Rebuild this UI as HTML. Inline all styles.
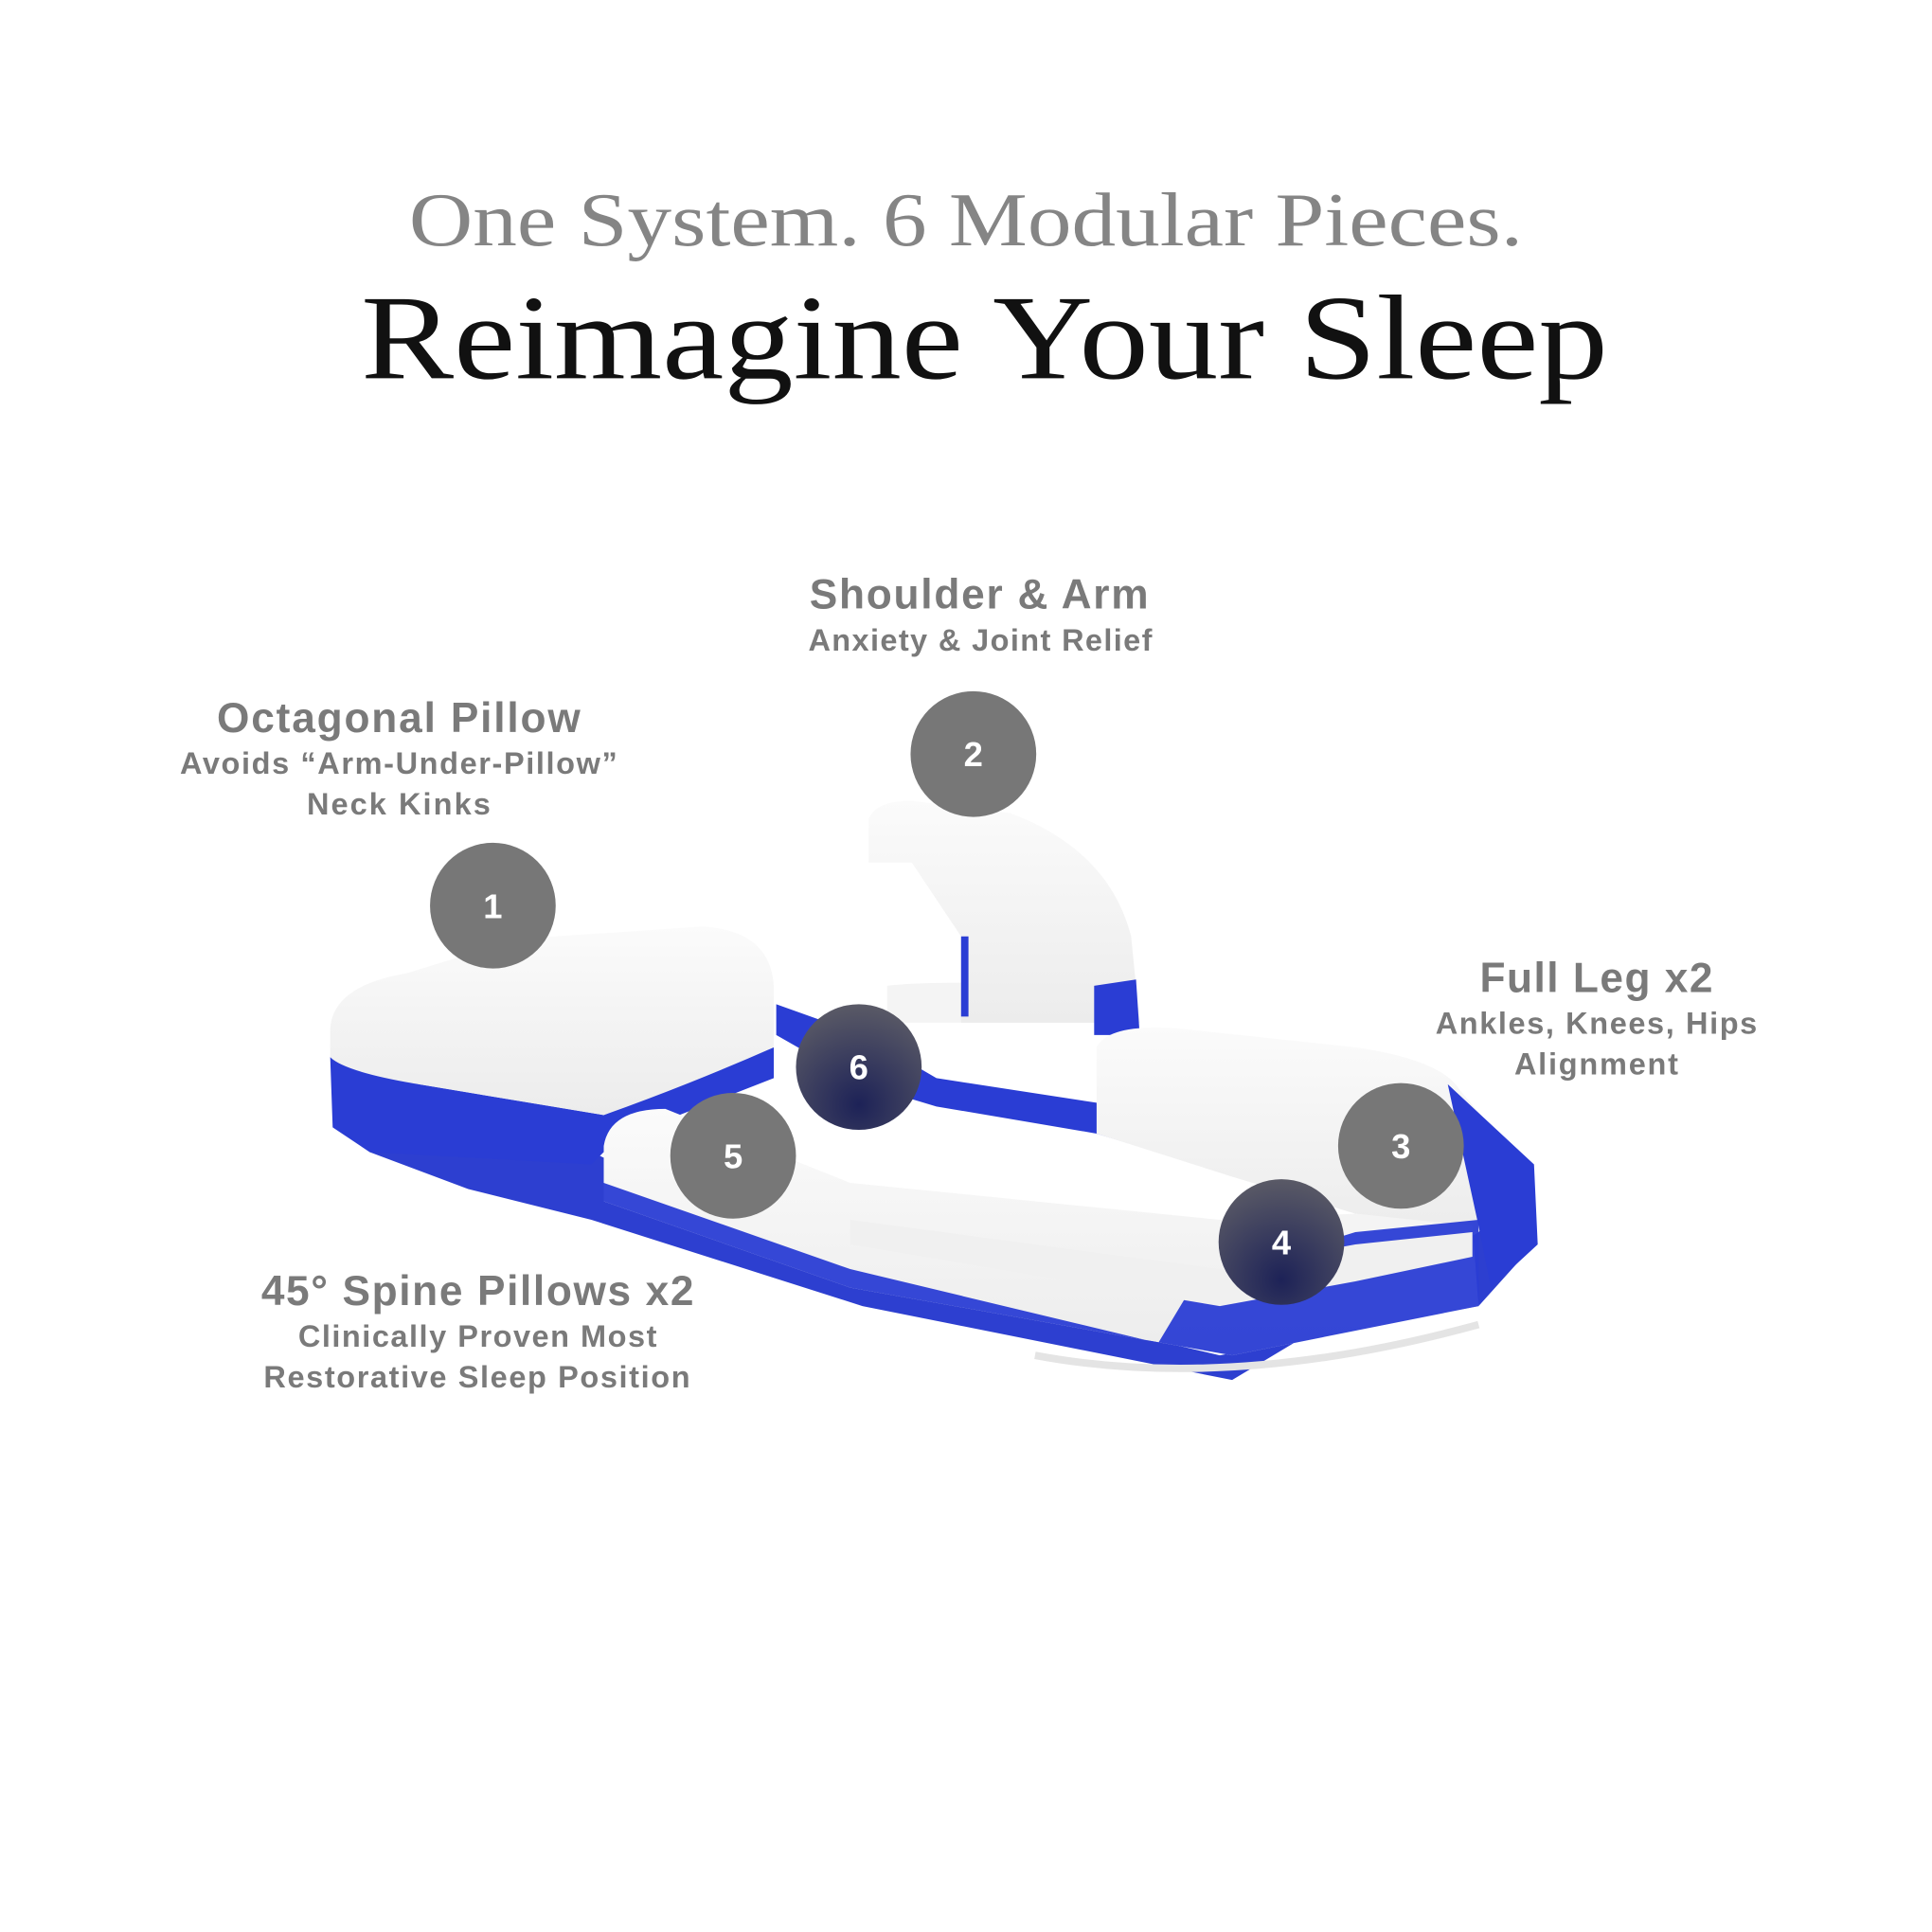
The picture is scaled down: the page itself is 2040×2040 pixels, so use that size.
<!DOCTYPE html>
<html><head><meta charset="utf-8"><style>
html,body{margin:0;padding:0;background:#fff}
svg{display:block}
</style></head><body>
<svg width="2040" height="2040" viewBox="0 0 1568 1568" xmlns="http://www.w3.org/2000/svg">
<defs>
<radialGradient id="dk" cx="0.5" cy="0.8" r="0.8">
<stop offset="0" stop-color="#1d2257"/><stop offset="1" stop-color="#5a5a66"/>
</radialGradient>
<linearGradient id="wt" x1="0" y1="0" x2="0" y2="1">
<stop offset="0" stop-color="#fbfbfb"/><stop offset="1" stop-color="#ececec"/>
</linearGradient>
</defs>
<rect width="1568" height="1568" fill="#fff"/>
<text x="332" y="199" textLength="904" lengthAdjust="spacingAndGlyphs" font-family="Liberation Serif, serif" font-size="62" fill="#858585">One System. 6 Modular Pieces.</text>
<text x="293" y="307" textLength="1012" lengthAdjust="spacingAndGlyphs" font-family="Liberation Serif, serif" font-size="98" fill="#111">Reimagine Your Sleep</text>

<g font-family="Liberation Sans, sans-serif" font-weight="bold" fill="#7a7a7a" lengthAdjust="spacingAndGlyphs">
<text x="657" y="494" font-size="34" textLength="275">Shoulder &amp; Arm</text>
<text x="656" y="528" font-size="25" textLength="279">Anxiety &amp; Joint Relief</text>
<text x="176" y="594" font-size="34" textLength="295">Octagonal Pillow</text>
<text x="146" y="628" font-size="25" textLength="355">Avoids “Arm-Under-Pillow”</text>
<text x="249" y="661" font-size="25" textLength="149">Neck Kinks</text>
<text x="1201" y="805" font-size="34" textLength="189">Full Leg x2</text>
<text x="1165" y="839" font-size="25" textLength="261">Ankles, Knees, Hips</text>
<text x="1229" y="872" font-size="25" textLength="133">Alignment</text>
<text x="212" y="1059" font-size="34" textLength="351">45° Spine Pillows x2</text>
<text x="242" y="1093" font-size="25" textLength="291">Clinically Proven Most</text>
<text x="214" y="1126" font-size="25" textLength="346">Restorative Sleep Position</text>
</g>

<g>
<path d="M300,920 L480,935 L690,1030 L990,1100 L1200,1060 L1245,1010 L1245,950 L1200,1000 L1000,1120 L700,1060 L480,990 L380,965 L300,935 Z" fill="#2d3fd0"/>
<path d="M268,858 L340,880 L490,905 L628,850 L628,875 L500,925 L480,945 L300,935 L270,915 Z" fill="#2a3dd4"/>
<path d="M268,835 Q270,800 330,790 L420,762 L570,752 Q625,755 628,800 L628,850 Q560,880 490,905 L340,880 Q280,870 268,858 Z" fill="url(#wt)"/>
<path d="M630,815 L700,840 L760,875 L890,895 L1000,930 L1005,955 L890,920 L760,898 L700,880 L630,840 Z" fill="#2a3dd4"/>
<path d="M720,800 Q760,795 890,800 L890,830 L720,830 Z" fill="#f4f4f4"/>
<path d="M705,665 Q710,650 740,650 L820,660 Q900,690 918,760 L925,830 L780,830 L780,760 L740,700 L705,700 Z" fill="url(#wt)"/>
<path d="M888,800 L922,795 L925,840 L888,840 Z" fill="#2a3dd4"/>
<path d="M780,760 L786,760 L786,825 L780,825 Z" fill="#2a3dd4"/>
<path d="M890,850 Q900,830 960,835 L1100,850 Q1170,860 1185,885 L1240,950 L1200,1000 L1100,985 L1000,955 L890,920 Z" fill="url(#wt)"/>
<path d="M1175,880 L1245,945 L1248,1010 L1210,1045 L1200,995 Z" fill="#2a3dd4"/>
<path d="M490,930 Q495,900 540,900 L690,960 L990,990 L1100,985 L1195,995 L1200,1060 L1000,1100 L690,1045 L490,975 Z" fill="url(#wt)"/>
<path d="M490,975 L690,1045 L1000,1100 L1200,1060 L1200,990 L1100,1000 L970,1040 L940,1090 L690,1030 L490,960 Z" fill="#2a3dd4" opacity="0.95"/>
<path d="M690,1010 L990,1060 L1100,1040 L1195,1020 L1195,1000 L1100,1010 L990,1030 L690,990 Z" fill="#f0f0f0"/>
<path d="M840,1100 Q1000,1130 1200,1075" stroke="#e4e4e4" stroke-width="6" fill="none"/>
</g>

<g font-family="Liberation Sans, sans-serif" font-weight="bold" font-size="28" fill="#fff" text-anchor="middle">
<circle cx="400" cy="735" r="51" fill="#777"/><text x="400" y="745">1</text>
<circle cx="790" cy="612" r="51" fill="#777"/><text x="790" y="622">2</text>
<circle cx="1137" cy="930" r="51" fill="#777"/><text x="1137" y="940">3</text>
<circle cx="1040" cy="1008" r="51" fill="url(#dk)"/><text x="1040" y="1018">4</text>
<circle cx="595" cy="938" r="51" fill="#777"/><text x="595" y="948">5</text>
<circle cx="697" cy="866" r="51" fill="url(#dk)"/><text x="697" y="876">6</text>
</g>
</svg>
</body></html>
